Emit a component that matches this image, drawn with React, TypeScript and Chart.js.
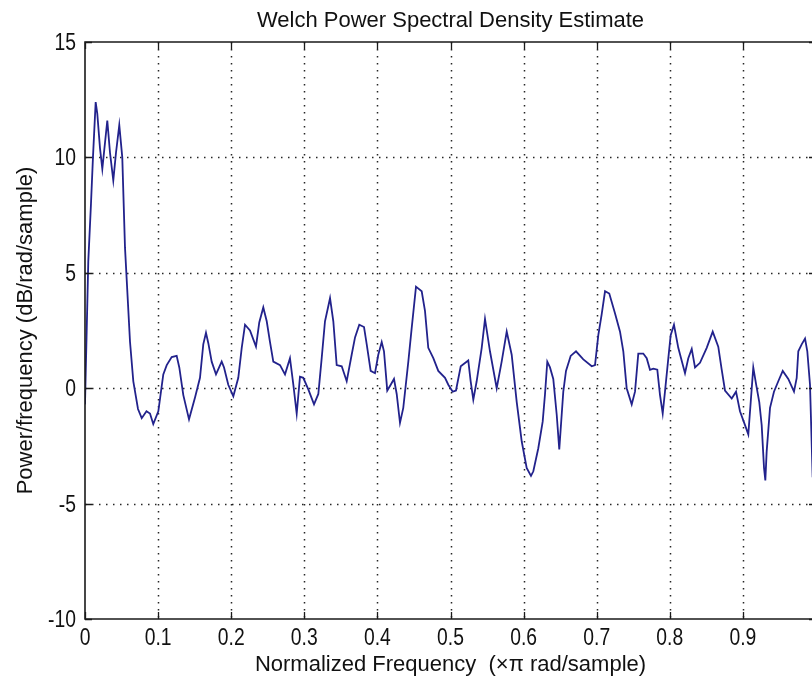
import React, { useEffect, useRef } from "react";
import { Chart, registerables } from "chart.js";

Chart.register(...registerables);

const TITLE = "Welch Power Spectral Density Estimate";
const X_LABEL = "Normalized Frequency  (\u00d7\u03c0 rad/sample)";
const Y_LABEL = "Power/frequency (dB/rad/sample)";

const X_TICKS = [0, 0.1, 0.2, 0.3, 0.4, 0.5, 0.6, 0.7, 0.8, 0.9, 1];
const X_TICK_LABELS = ["0", "0.1", "0.2", "0.3", "0.4", "0.5", "0.6", "0.7", "0.8", "0.9", "1"];
const Y_TICKS = [-10, -5, 0, 5, 10, 15];
const Y_TICK_LABELS = ["-10", "-5", "0", "5", "10", "15"];

const FREQ = [
  0, 0.0045, 0.0082, 0.0109, 0.0146, 0.0168, 0.0205, 0.0237, 0.0305, 0.0342,
  0.0387, 0.0424, 0.0469, 0.051, 0.0547, 0.0616, 0.0661, 0.0725, 0.0776, 0.0841,
  0.0889, 0.0934, 0.1003, 0.1071, 0.1118, 0.1186, 0.1254, 0.129, 0.1345, 0.1423,
  0.1505, 0.1573, 0.1618, 0.1655, 0.1687, 0.1733, 0.1792, 0.187, 0.1902, 0.196,
  0.2029, 0.2097, 0.2144, 0.2189, 0.2257, 0.2339, 0.2384, 0.2439, 0.2486, 0.2531,
  0.2576, 0.2668, 0.2736, 0.2804, 0.285, 0.2896, 0.2941, 0.2986, 0.3055, 0.3133,
  0.3192, 0.3238, 0.3283, 0.3352, 0.3397, 0.3443, 0.3512, 0.358, 0.3648, 0.3694,
  0.3752, 0.3817, 0.3854, 0.3908, 0.3967, 0.4012, 0.4059, 0.409, 0.4135, 0.4182,
  0.4227, 0.4264, 0.4309, 0.4354, 0.4423, 0.4469, 0.4528, 0.4606, 0.4651, 0.4696,
  0.4765, 0.4833, 0.4925, 0.497, 0.503, 0.5075, 0.514, 0.5243, 0.5276, 0.5312,
  0.5358, 0.5427, 0.5472, 0.554, 0.5632, 0.57, 0.5769, 0.5837, 0.5906, 0.5974,
  0.6042, 0.6101, 0.6133, 0.6201, 0.6261, 0.6293, 0.6324, 0.6361, 0.6406, 0.6453,
  0.6488, 0.6521, 0.6543, 0.658, 0.6644, 0.6717, 0.6817, 0.6932, 0.6977, 0.7022,
  0.7068, 0.7114, 0.7172, 0.725, 0.7319, 0.7364, 0.741, 0.7479, 0.7524, 0.7569,
  0.7637, 0.7684, 0.7729, 0.7774, 0.7829, 0.7866, 0.7903, 0.7934, 0.798, 0.8012,
  0.8057, 0.8116, 0.8208, 0.8253, 0.83, 0.8345, 0.8413, 0.8505, 0.8587, 0.8663,
  0.871, 0.8755, 0.8847, 0.8906, 0.896, 0.9029, 0.9074, 0.9107, 0.9142, 0.9179,
  0.9224, 0.9257, 0.9289, 0.9307, 0.9325, 0.9371, 0.9425, 0.9484, 0.9545, 0.9621,
  0.9699, 0.9736, 0.9758, 0.9804, 0.985, 0.9881, 0.9918, 0.9952, 1.0,
];

const PSD = [
  -0.7, 5.5, 8.0, 10.0, 12.4, 11.9, 10.4, 9.5, 11.6, 10.2,
  9.0, 10.2, 11.4, 10.0, 6.1, 2.0, 0.3, -0.9, -1.3, -1.0,
  -1.1, -1.55, -1.0, 0.6, 1.0, 1.35, 1.4, 0.9, -0.3, -1.35,
  -0.4, 0.45, 1.9, 2.4, 1.95, 1.15, 0.6, 1.15, 0.9, 0.15,
  -0.35, 0.45, 1.75, 2.75, 2.5, 1.8, 2.85, 3.5, 2.9, 2.0,
  1.15, 1.0, 0.6, 1.3, 0.15, -1.1, 0.5, 0.45, -0.05, -0.7,
  -0.25, 1.3, 2.9, 3.9, 2.9, 1.0, 0.95, 0.3, 1.45, 2.2,
  2.75, 2.65, 1.9, 0.75, 0.65, 1.45, 2.0, 1.6, -0.1, 0.15,
  0.4, -0.25, -1.5, -0.85, 1.15, 2.6, 4.4, 4.2, 3.35, 1.75,
  1.3, 0.75, 0.45, 0.15, -0.15, -0.1, 0.95, 1.2, 0.3, -0.5,
  0.3, 1.75, 3.0, 1.6, 0.0, 1.15, 2.45, 1.45, -0.6, -2.3,
  -3.45, -3.8, -3.6, -2.6, -1.45, -0.25, 1.15, 0.9, 0.4, -1.15,
  -2.65, -1.15, -0.15, 0.75, 1.4, 1.6, 1.25, 0.95, 1.0, 2.3,
  3.2, 4.2, 4.1, 3.25, 2.45, 1.6, 0.0, -0.7, -0.15, 1.5,
  1.5, 1.3, 0.8, 0.85, 0.8, -0.3, -1.1, -0.15, 1.3, 2.3,
  2.75, 1.75, 0.65, 1.3, 1.7, 0.9, 1.1, 1.75, 2.45, 1.8,
  0.8, -0.1, -0.45, -0.15, -1.0, -1.6, -2.0, -0.6, 0.9, 0.2,
  -0.6, -1.6, -3.45, -4.0, -2.75, -0.85, -0.15, 0.3, 0.75, 0.4,
  -0.15, 0.45, 1.6, 1.9, 2.15, 1.6, 0.15, -3.6, -3.0,
];

const CANVAS_W = 840;
const CANVAS_H = 684;
const PLOT_LEFT = 85;
const PLOT_TOP = 42;
const PLOT_RIGHT = 816;
const PLOT_BOTTOM = 619;
const TEXT_FONT = "'Liberation Sans', Arial, sans-serif";
const TICK_FONT = "23px 'Liberation Sans', Arial, sans-serif";
const TICK_SQUEEZE = 0.84;

const framePlugin = {
  id: "matlabFrame",
  beforeDatasetsDraw(chart: any) {
    const { ctx, chartArea } = chart;
    const xs = chart.scales.x;
    const ys = chart.scales.y;
    ctx.save();
    ctx.strokeStyle = "rgba(0,0,0,0.85)";
    ctx.lineWidth = 1.5;
    ctx.setLineDash([1.5, 5.5]);
    X_TICKS.forEach((v) => {
      const px = Math.round(xs.getPixelForValue(v)) + 0.5;
      if (px <= chartArea.left + 2 || px >= chartArea.right - 2) return;
      ctx.beginPath();
      ctx.moveTo(px, chartArea.top);
      ctx.lineTo(px, chartArea.bottom);
      ctx.stroke();
    });
    Y_TICKS.forEach((v) => {
      const py = Math.round(ys.getPixelForValue(v)) + 0.5;
      if (py <= chartArea.top + 2 || py >= chartArea.bottom - 2) return;
      ctx.beginPath();
      ctx.moveTo(chartArea.left, py);
      ctx.lineTo(chartArea.right, py);
      ctx.stroke();
    });
    ctx.restore();
  },
  afterDatasetsDraw(chart: any) {
    const { ctx, chartArea } = chart;
    const xs = chart.scales.x;
    const ys = chart.scales.y;
    const tl = 7;
    ctx.save();
    ctx.strokeStyle = "#1a1a1a";
    ctx.lineWidth = 1.6;
    ctx.setLineDash([]);
    ctx.beginPath();
    ctx.moveTo(chartArea.left, chartArea.top);
    ctx.lineTo(chartArea.right, chartArea.top);
    ctx.lineTo(chartArea.right, chartArea.bottom);
    ctx.lineTo(chartArea.left, chartArea.bottom);
    ctx.closePath();
    ctx.stroke();
    ctx.lineWidth = 1.3;
    X_TICKS.forEach((v) => {
      const px = Math.round(xs.getPixelForValue(v)) + 0.5;
      ctx.beginPath();
      ctx.moveTo(px, chartArea.bottom);
      ctx.lineTo(px, chartArea.bottom - tl);
      ctx.moveTo(px, chartArea.top);
      ctx.lineTo(px, chartArea.top + tl);
      ctx.stroke();
    });
    Y_TICKS.forEach((v) => {
      const py = Math.round(ys.getPixelForValue(v)) + 0.5;
      ctx.beginPath();
      ctx.moveTo(chartArea.left, py);
      ctx.lineTo(chartArea.left + tl, py);
      ctx.moveTo(chartArea.right, py);
      ctx.lineTo(chartArea.right - tl, py);
      ctx.stroke();
    });
    ctx.restore();
  },
  afterDraw(chart: any) {
    const { ctx, chartArea } = chart;
    const xs = chart.scales.x;
    const ys = chart.scales.y;
    const cx = (chartArea.left + chartArea.right) / 2;
    const cy = (chartArea.top + chartArea.bottom) / 2;
    ctx.save();
    ctx.fillStyle = "#111";
    // tick labels (slightly condensed, like the reference)
    ctx.font = TICK_FONT;
    ctx.textBaseline = "alphabetic";
    ctx.textAlign = "center";
    X_TICKS.forEach((v, i) => {
      const px = xs.getPixelForValue(v);
      ctx.save();
      ctx.translate(px, chartArea.bottom + 26);
      ctx.scale(TICK_SQUEEZE, 1);
      ctx.fillText(X_TICK_LABELS[i], 0, 0);
      ctx.restore();
    });
    ctx.textAlign = "right";
    Y_TICKS.forEach((v, i) => {
      const py = ys.getPixelForValue(v);
      ctx.save();
      ctx.translate(chartArea.left - 9, py + 8);
      ctx.scale(TICK_SQUEEZE, 1);
      ctx.fillText(Y_TICK_LABELS[i], 0, 0);
      ctx.restore();
    });
    // title and axis labels
    ctx.font = `22px ${TEXT_FONT}`;
    ctx.textAlign = "center";
    ctx.textBaseline = "alphabetic";
    ctx.fillText(TITLE, cx, 27);
    ctx.fillText(X_LABEL, cx, 671);
    ctx.translate(26, cy);
    ctx.rotate(-Math.PI / 2);
    ctx.textBaseline = "middle";
    ctx.fillText(Y_LABEL, 0, 0);
    ctx.restore();
  },
};

export default function App() {
  const canvasRef = useRef<HTMLCanvasElement | null>(null);

  useEffect(() => {
    const canvas = canvasRef.current;
    if (!canvas) return;

    const chart = new Chart(canvas, {
      type: "line",
      data: {
        datasets: [
          {
            data: FREQ.map((f, i) => ({ x: f, y: PSD[i] })),
            borderColor: "#22228c",
            borderWidth: 1.8,
            pointRadius: 0,
            tension: 0,
            fill: false,
          },
        ],
      },
      options: {
        responsive: false,
        animation: false,
        events: [],
        layout: {
          padding: { left: 0, top: PLOT_TOP, right: CANVAS_W - PLOT_RIGHT, bottom: 0 },
        },
        plugins: {
          legend: { display: false },
          title: { display: false },
          tooltip: { enabled: false },
        },
        scales: {
          x: {
            type: "linear",
            min: 0,
            max: 1,
            afterBuildTicks: (scale: any) => {
              scale.ticks = X_TICKS.map((v) => ({ value: v }));
            },
            afterFit: (scale: any) => {
              scale.height = CANVAS_H - PLOT_BOTTOM;
            },
            grid: { display: false, drawTicks: false },
            border: { display: false },
            ticks: { display: false },
          },
          y: {
            type: "linear",
            min: -10,
            max: 15,
            afterBuildTicks: (scale: any) => {
              scale.ticks = Y_TICKS.map((v) => ({ value: v }));
            },
            afterFit: (scale: any) => {
              scale.width = PLOT_LEFT;
            },
            grid: { display: false, drawTicks: false },
            border: { display: false },
            ticks: { display: false },
          },
        },
      },
      plugins: [framePlugin],
    } as any);

    return () => chart.destroy();
  }, []);

  return (
    <div
      style={{
        position: "fixed",
        left: 0,
        top: 0,
        width: 812,
        height: 684,
        overflow: "hidden",
        background: "#fff",
      }}
    >
      <canvas
        ref={canvasRef}
        width={CANVAS_W}
        height={CANVAS_H}
        style={{ display: "block", width: CANVAS_W, height: CANVAS_H }}
      />
    </div>
  );
}
